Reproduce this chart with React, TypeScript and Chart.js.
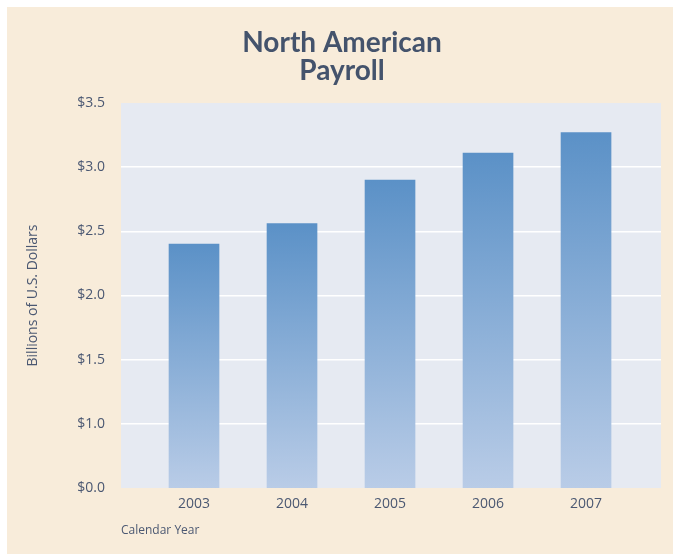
import React, { useEffect, useRef } from "react";
import { Chart, registerables } from "chart.js";

Chart.register(...registerables);

const titleLines = ["North American", "Payroll"];
const years = [2003, 2004, 2005, 2006, 2007];
const payroll = [2.4, 2.56, 2.9, 3.11, 3.27];
const yTickValues = [0.5, 1.0, 1.5, 2.0, 2.5, 3.0, 3.5];
const yTickLabels = ["$0.0", "$1.0", "$1.5", "$2.0", "$2.5", "$3.0", "$3.5"];
const yAxisTitle = "Billions of U.S. Dollars";
const xAxisTitle = "Calendar Year";

const BG = "#F8ECDA";
const PLOT_BG = "#E6EAF2";
const TEXT = "#4B5872";
const TITLE = "#44536C";

export default function App() {
  const ref = useRef<HTMLCanvasElement | null>(null);

  useEffect(() => {
    if (!ref.current) return;
    const bgPlugin = {
      id: "plotBg",
      beforeDraw(chart: any) {
        const { ctx, chartArea } = chart;
        ctx.save();
        ctx.fillStyle = PLOT_BG;
        ctx.fillRect(chartArea.left, chartArea.top, chartArea.right - chartArea.left, chartArea.bottom - chartArea.top);
        ctx.restore();
      },
      afterDraw(chart: any) {
        const { ctx, width } = chart;
        ctx.save();
        ctx.fillStyle = TITLE;
        ctx.font = "bold 28px Lato, 'Open Sans', sans-serif";
        ctx.textAlign = "center";
        ctx.textBaseline = "alphabetic";
        ctx.fillText(titleLines[0], width / 2 + 2, 45);
        ctx.fillText(titleLines[1], width / 2 + 2, 73);
        ctx.restore();
      },
    };

    const chart = new Chart(ref.current, {
      type: "bar",
      data: {
        datasets: [
          {
            data: years.map((yr, i) => ({ x: yr, y: payroll[i] })),
            barThickness: 50,
            backgroundColor: (ctx: any) => {
              const chart = ctx.chart;
              const area = chart.chartArea;
              if (!area || ctx.type !== "data" || !ctx.parsed) return "#7BA3D3";
              const yTop = chart.scales.y.getPixelForValue(ctx.parsed.y);
              const g = chart.ctx.createLinearGradient(0, yTop, 0, area.bottom);
              g.addColorStop(0, "#5B91C7");
              g.addColorStop(1, "#B9CCE7");
              return g;
            },
          },
        ],
      },
      options: {
        animation: false,
        responsive: false,
        layout: { padding: { top: 96, left: 0, right: 12, bottom: 0 } },
        plugins: {
          legend: { display: false },
          tooltip: { enabled: false },
          title: { display: false },
        },
        scales: {
          x: {
            type: "linear",
            offset: false,
            min: 2002.255,
            max: 2007.765,
            grid: { display: false, offset: false },
            border: { display: false },
            afterBuildTicks: (axis: any) => {
              axis.ticks = years.map((v) => ({ value: v }));
            },
            afterFit: (axis: any) => {
              axis.height = 66;
            },
            ticks: {
              color: TEXT,
              font: { family: "'Open Sans', sans-serif", size: 14 },
              padding: 0,
              maxRotation: 0,
              callback: (v: any) => String(v),
            },
            title: {
              display: true,
              text: xAxisTitle,
              align: "start",
              color: TEXT,
              font: { family: "'Open Sans', sans-serif", size: 12 },
              padding: { top: 0, bottom: 16 },
            },
          },
          y: {
            type: "linear",
            min: 0.5,
            max: 3.5,
            afterBuildTicks: (axis: any) => {
              axis.ticks = yTickValues.map((v) => ({ value: v }));
            },
            afterFit: (axis: any) => {
              axis.width = 114;
            },
            grid: {
              drawTicks: false,
              color: (ctx: any) =>
                ctx.tick && (ctx.tick.value === 0.5 || ctx.tick.value === 3.5) ? "rgba(0,0,0,0)" : "#FFFFFF",
              lineWidth: 1.5,
            },
            border: { display: false },
            ticks: {
              color: TEXT,
              font: { family: "'Open Sans', sans-serif", size: 14 },
              padding: 16,
              callback: (v: any) => {
                const i = yTickValues.indexOf(Number(v));
                return i >= 0 ? yTickLabels[i] : "";
              },
            },
            title: {
              display: true,
              text: yAxisTitle,
              color: TEXT,
              font: { family: "'Open Sans', sans-serif", size: 14 },
              padding: { top: 18, bottom: 0 },
            },
          },
        },
      },
      plugins: [bgPlugin],
    } as any);
    return () => chart.destroy();
  }, []);

  return (
    <div style={{ position: "fixed", left: 7, top: 7, width: 666, height: 547, background: BG }}>
      <canvas ref={ref} width={666} height={547} style={{ display: "block", width: 666, height: 547 }} />
    </div>
  );
}
